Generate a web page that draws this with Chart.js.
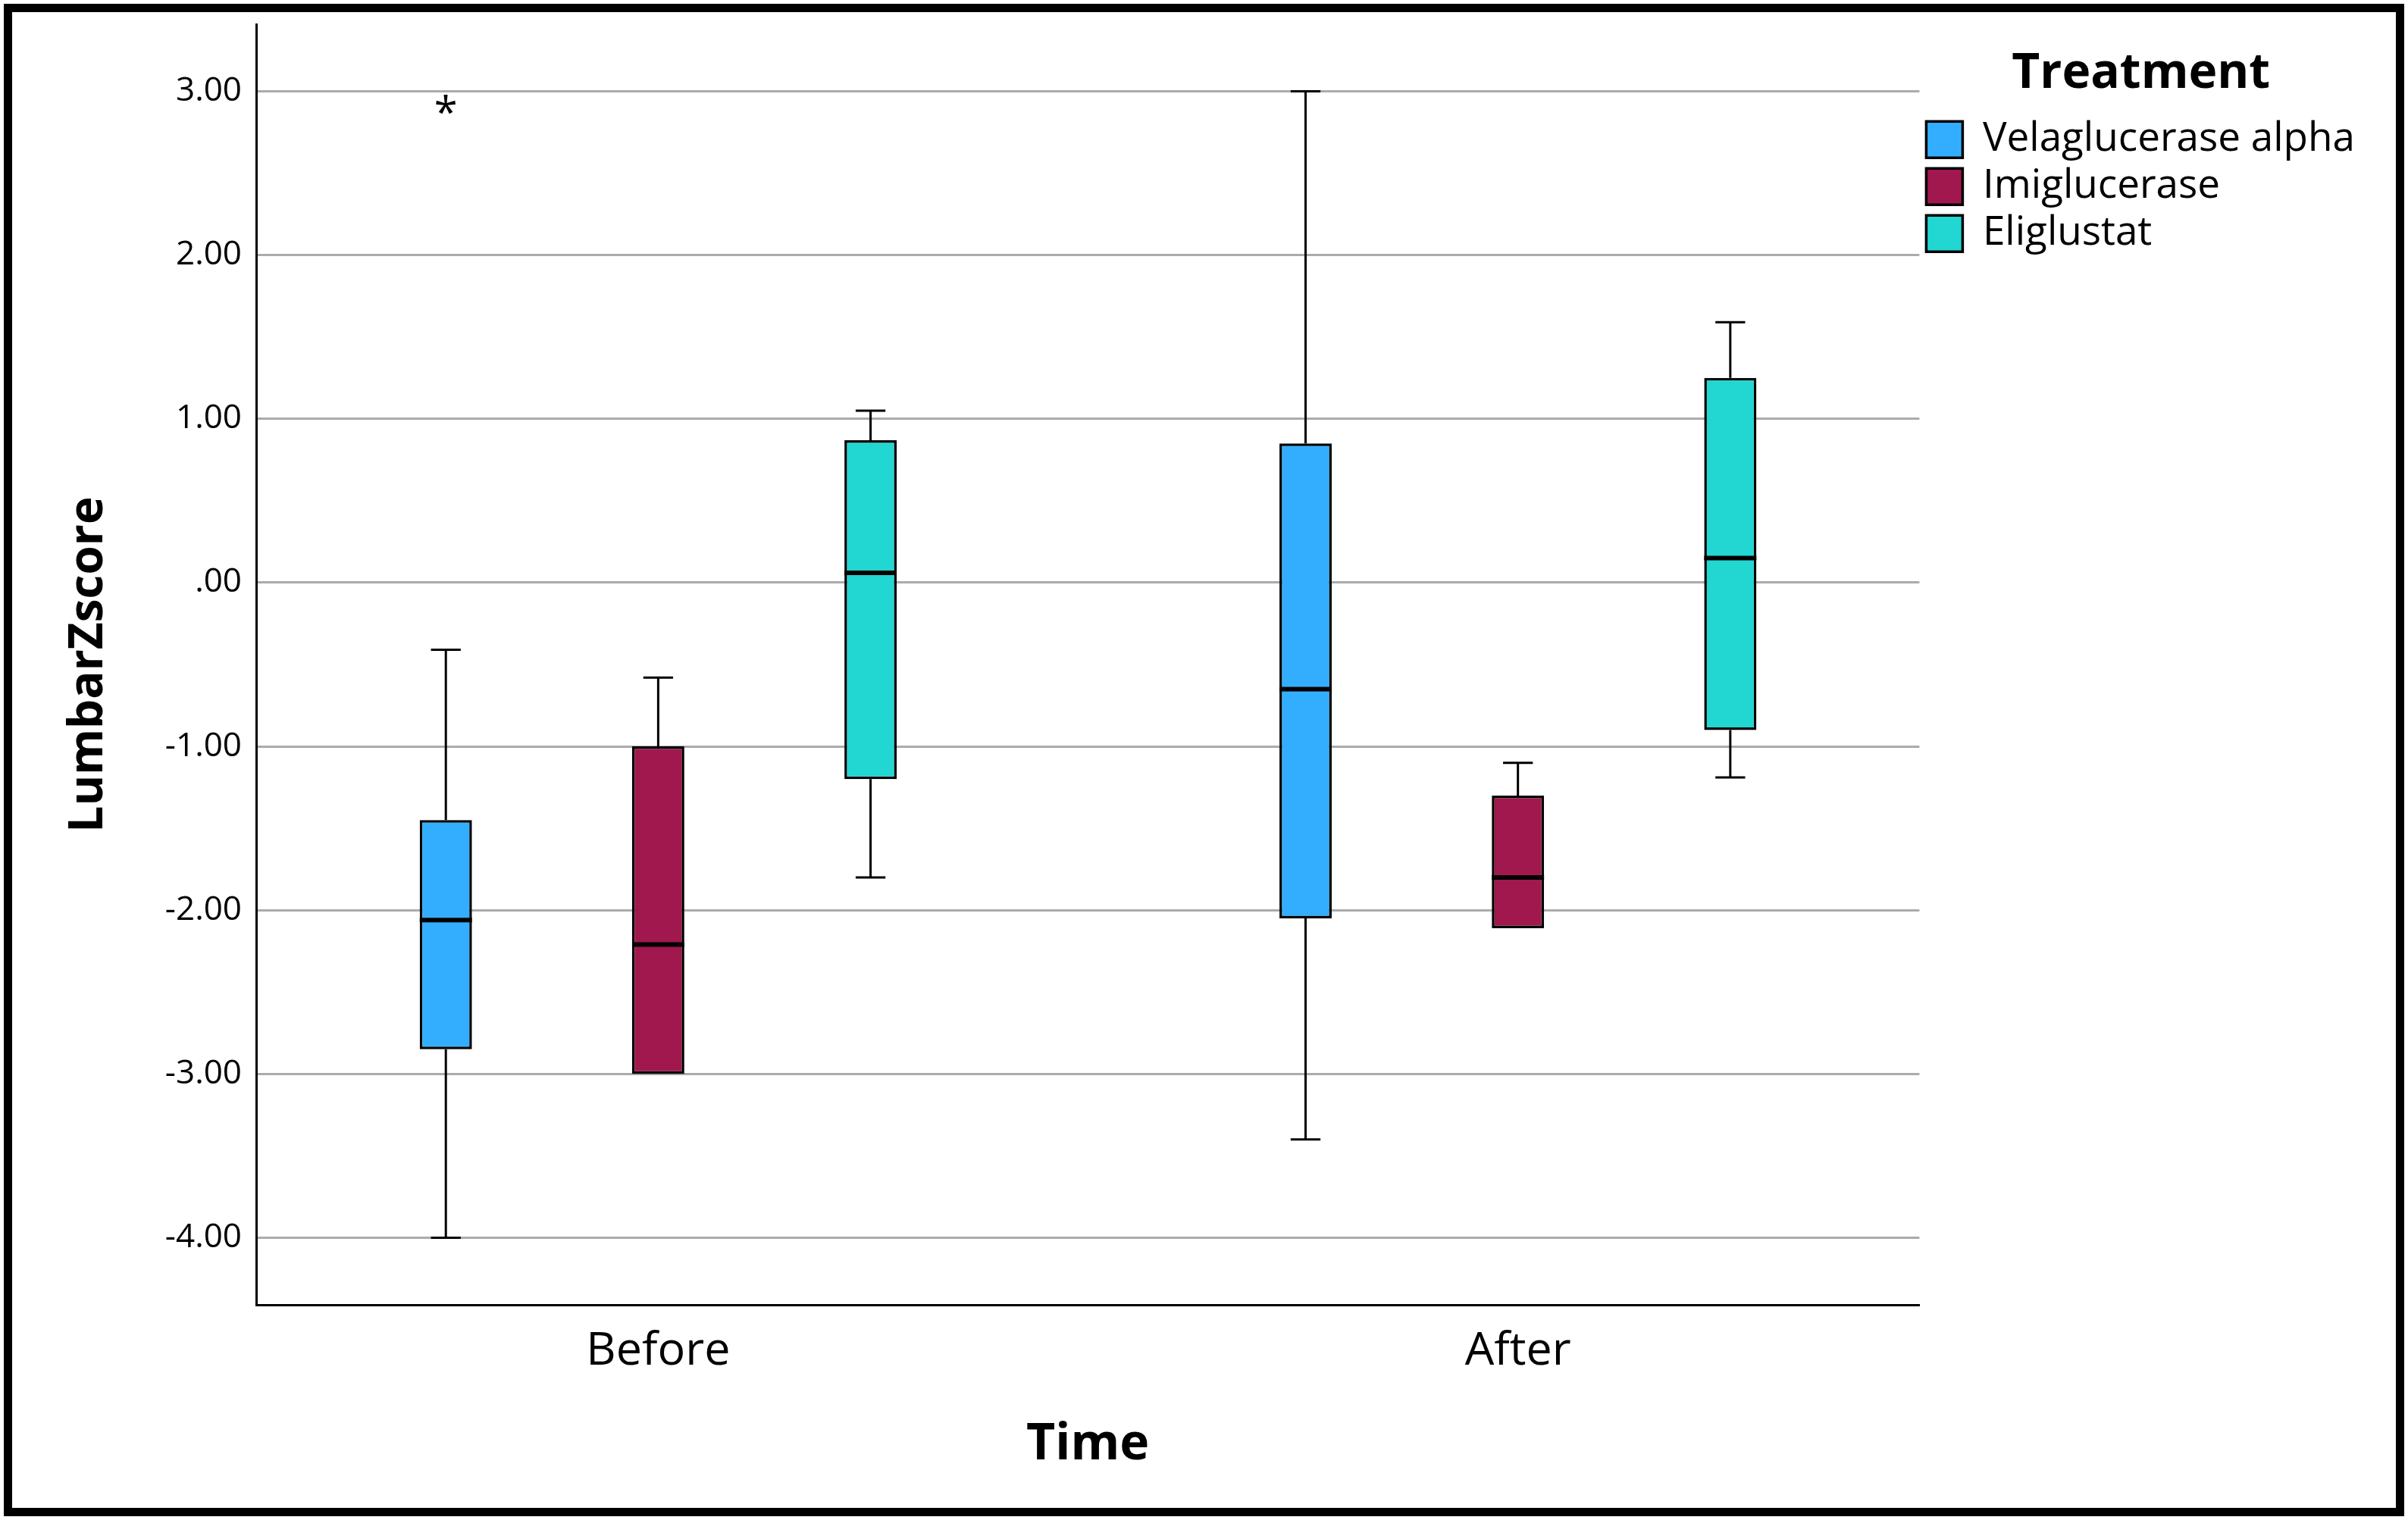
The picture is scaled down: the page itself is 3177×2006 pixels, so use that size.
<!DOCTYPE html>
<html lang="en">
<head>
    <meta charset="UTF-8">
    <title>LumbarZscore by Time and Treatment</title>
    <script src="https://cdn.jsdelivr.net/npm/chart.js"></script>
    <style>
        html, body { margin: 0; padding: 0; background: #fff; }
        .wrap { position: relative; width: 3177px; height: 2006px; }
        .frame { position: absolute; left: 5px; top: 5px; width: 3167px; height: 1996px;
                 box-sizing: border-box; border: 11px solid #000; pointer-events: none; }
    </style>
</head>
<body>
    <div class="wrap">
        <canvas id="boxChart" width="3177" height="2006"></canvas>
        <div class="frame"></div>
    </div>

    <script>
        const categories = ['Before', 'After'];
        const treatments = ['Velaglucerase alpha', 'Imiglucerase', 'Eliglustat'];
        const colors = ['#33AEFF', '#A0184E', '#22D6D2'];

        // values per treatment, one entry per time point (Before, After)
        const velaMin = [-4.00, -3.40];
        const velaQ1 = [-2.85, -2.05];
        const velaMedian = [-2.06, -0.65];
        const velaQ3 = [-1.45, 0.85];
        const velaMax = [-0.41, 3.00];
        const velaExtremes = [[2.92], []];

        const imiMin = [-3.00, -2.11];
        const imiQ1 = [-3.00, -2.11];
        const imiMedian = [-2.21, -1.80];
        const imiQ3 = [-1.00, -1.30];
        const imiMax = [-0.58, -1.10];
        const imiExtremes = [[], []];

        const eliMin = [-1.80, -1.19];
        const eliQ1 = [-1.20, -0.90];
        const eliMedian = [0.06, 0.15];
        const eliQ3 = [0.87, 1.25];
        const eliMax = [1.05, 1.59];
        const eliExtremes = [[], []];

        const yTicks = [-4, -3, -2, -1, 0, 1, 2, 3];
        const yTickLabels = ['-4.00', '-3.00', '-2.00', '-1.00', '.00', '1.00', '2.00', '3.00'];

        const boxStats = [
            { min: velaMin, q1: velaQ1, median: velaMedian, q3: velaQ3, max: velaMax, extremes: velaExtremes },
            { min: imiMin, q1: imiQ1, median: imiMedian, q3: imiQ3, max: imiMax, extremes: imiExtremes },
            { min: eliMin, q1: eliQ1, median: eliMedian, q3: eliQ3, max: eliMax, extremes: eliExtremes }
        ];

        const FONT = "'Open Sans', 'Noto Sans', sans-serif";
        Chart.defaults.font.family = FONT;
        Chart.defaults.color = '#000';

        // whiskers, medians and extreme values on top of the floating bars
        const whiskerPlugin = {
            id: 'whiskers',
            afterDatasetsDraw(chart) {
                const ctx = chart.ctx;
                const yScale = chart.scales.y;
                ctx.save();
                ctx.strokeStyle = '#000';
                ctx.fillStyle = '#000';
                chart.data.datasets.forEach((ds, i) => {
                    const s = boxStats[i];
                    chart.getDatasetMeta(i).data.forEach((bar, j) => {
                        const x = bar.x;
                        const w = bar.width;
                        const cap = w * 0.57;
                        const pQ1 = yScale.getPixelForValue(s.q1[j]);
                        const pQ3 = yScale.getPixelForValue(s.q3[j]);
                        const pMin = yScale.getPixelForValue(s.min[j]);
                        const pMax = yScale.getPixelForValue(s.max[j]);
                        const pMed = yScale.getPixelForValue(s.median[j]);

                        ctx.lineWidth = 3;
                        ctx.beginPath();
                        if (s.max[j] > s.q3[j]) {
                            ctx.moveTo(x, pQ3); ctx.lineTo(x, pMax);
                            ctx.moveTo(x - cap / 2, pMax); ctx.lineTo(x + cap / 2, pMax);
                        }
                        if (s.min[j] < s.q1[j]) {
                            ctx.moveTo(x, pQ1); ctx.lineTo(x, pMin);
                            ctx.moveTo(x - cap / 2, pMin); ctx.lineTo(x + cap / 2, pMin);
                        }
                        ctx.stroke();

                        ctx.lineWidth = 6;
                        ctx.beginPath();
                        ctx.moveTo(x - w / 2, pMed); ctx.lineTo(x + w / 2, pMed);
                        ctx.stroke();

                        ctx.font = '56px ' + FONT;
                        ctx.textAlign = 'center';
                        ctx.textBaseline = 'alphabetic';
                        s.extremes[j].forEach(v => {
                            const m = ctx.measureText('*');
                            const mid = (m.actualBoundingBoxAscent - m.actualBoundingBoxDescent) / 2;
                            ctx.fillText('*', x, yScale.getPixelForValue(v) + mid);
                        });
                    });
                });
                ctx.restore();
            }
        };

        const datasets = treatments.map((name, i) => ({
            label: name,
            data: categories.map((c, j) => ({ x: j, y: [boxStats[i].q1[j], boxStats[i].q3[j]] })),
            backgroundColor: colors[i],
            borderColor: '#000',
            borderWidth: 3.5,
            borderSkipped: false,
            categoryPercentage: 0.741,
            barPercentage: 0.246
        }));

        const ctx = document.getElementById('boxChart').getContext('2d');
        const boxChart = new Chart(ctx, {
            type: 'bar',
            data: { datasets: datasets },
            plugins: [whiskerPlugin],
            options: {
                responsive: false,
                animation: false,
                events: [],
                layout: { padding: { top: 32, left: 0, bottom: 0, right: 60 } },
                scales: {
                    x: {
                        type: 'linear',
                        offset: false,
                        min: -0.4676,
                        max: 1.467,
                        afterBuildTicks: scale => { scale.ticks = categories.map((c, j) => ({ value: j })); },
                        afterFit: scale => { scale.height = 284; },
                        grid: { display: false, drawTicks: false },
                        border: { display: true, color: '#000', width: 3 },
                        ticks: {
                            padding: 25,
                            color: '#000',
                            font: { size: 61 },
                            callback: v => categories[v]
                        },
                        title: {
                            display: true,
                            text: 'Time',
                            color: '#000',
                            font: { size: 66, weight: 'bold' },
                            padding: { top: 0, bottom: 59 }
                        }
                    },
                    y: {
                        min: -4.41,
                        max: 3.41,
                        afterBuildTicks: scale => { scale.ticks = yTicks.map(v => ({ value: v })); },
                        afterFit: scale => {
                            scale.width = 338;
                            scale.paddingTop = 0;
                            scale.paddingBottom = 0;
                        },
                        grid: { color: '#ABABAB', lineWidth: 3, drawTicks: false },
                        border: { display: true, color: '#000', width: 3 },
                        ticks: {
                            padding: 19,
                            color: '#000',
                            font: { size: 44 },
                            callback: v => yTickLabels[yTicks.indexOf(v)]
                        },
                        title: {
                            display: true,
                            text: 'LumbarZscore',
                            color: '#000',
                            font: { size: 62, weight: 'bold' },
                            padding: { top: 80, bottom: 0 }
                        }
                    }
                },
                plugins: {
                    tooltip: { enabled: false },
                    legend: {
                        position: 'right',
                        align: 'start',
                        title: {
                            display: true,
                            text: 'Treatment',
                            color: '#000',
                            font: { size: 64, weight: 'bold' },
                            padding: { top: 34, bottom: 6 }
                        },
                        labels: {
                            boxWidth: 48,
                            boxHeight: 48,
                            padding: 9,
                            color: '#000',
                            font: { size: 53 }
                        }
                    }
                }
            }
        });
    </script>
</body>
</html>
